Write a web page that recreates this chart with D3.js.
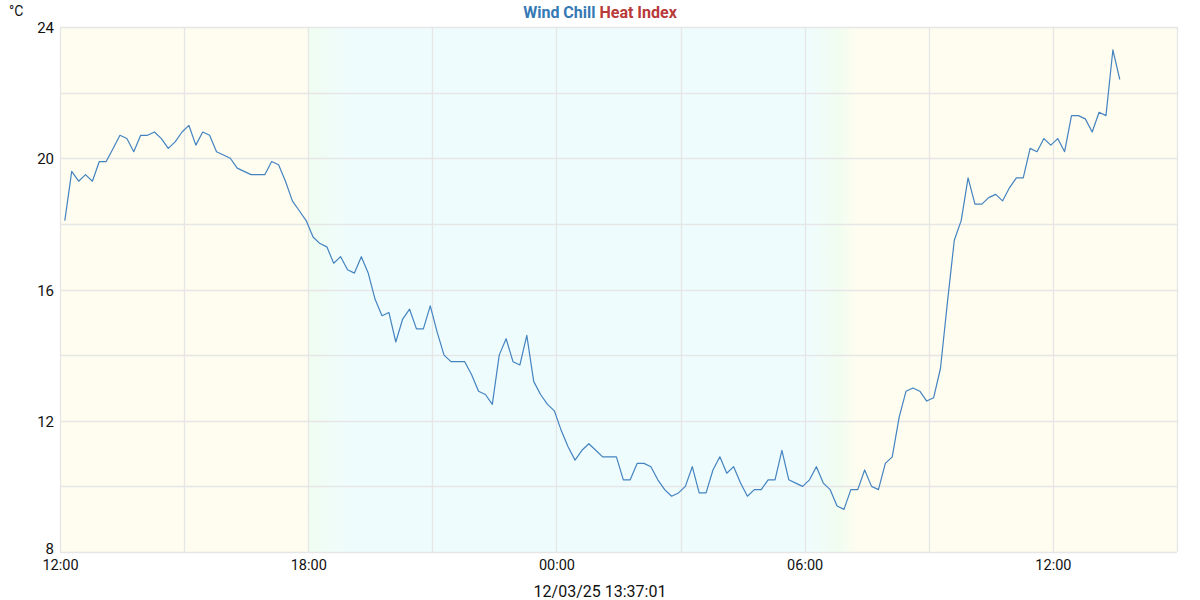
<!DOCTYPE html>
<html>
<head>
<meta charset="utf-8">
<script src="https://cdn.jsdelivr.net/npm/d3@7"></script>
<style>
  html, body { margin: 0; padding: 0; background: #fff; }
  svg { display: block; font-family: Roboto, "Noto Sans", sans-serif; }
</style>
</head>
<body>
<svg id="chart" width="1200" height="600"></svg>
<script>
// ---- data ----
const startTime = new Date(2025, 11, 2, 12, 7, 0);
const stepMinutes = 10;
const domainStart = new Date(2025, 11, 2, 12, 0, 0);
const domainEnd = new Date(2025, 11, 3, 15, 0, 0);
const windChill = [
  18.1, 19.6, 19.3, 19.5, 19.3, 19.9, 19.9, 20.3, 20.7, 20.6,
  20.2, 20.7, 20.7, 20.8, 20.6, 20.3, 20.5, 20.8, 21.0, 20.4,
  20.8, 20.7, 20.2, 20.1, 20.0, 19.7, 19.6, 19.5, 19.5, 19.5,
  19.9, 19.8, 19.3, 18.7, 18.4, 18.1, 17.6, 17.4, 17.3, 16.8,
  17.0, 16.6, 16.5, 17.0, 16.5, 15.7, 15.2, 15.3, 14.4, 15.1,
  15.4, 14.8, 14.8, 15.5, 14.7, 14.0, 13.8, 13.8, 13.8, 13.4,
  12.9, 12.8, 12.5, 14.0, 14.5, 13.8, 13.7, 14.6, 13.2, 12.8,
  12.5, 12.3, 11.7, 11.2, 10.8, 11.1, 11.3, 11.1, 10.9, 10.9,
  10.9, 10.2, 10.2, 10.7, 10.7, 10.6, 10.2, 9.9, 9.7, 9.8,
  10.0, 10.6, 9.8, 9.8, 10.5, 10.9, 10.4, 10.6, 10.1, 9.7,
  9.9, 9.9, 10.2, 10.2, 11.1, 10.2, 10.1, 10.0, 10.2, 10.6,
  10.1, 9.9, 9.4, 9.3, 9.9, 9.9, 10.5, 10.0, 9.9, 10.7,
  10.9, 12.1, 12.9, 13.0, 12.9, 12.6, 12.7, 13.6, 15.6, 17.5,
  18.1, 19.4, 18.6, 18.6, 18.8, 18.9, 18.7, 19.1, 19.4, 19.4,
  20.3, 20.2, 20.6, 20.4, 20.6, 20.2, 21.3, 21.3, 21.2, 20.8,
  21.4, 21.3, 23.3, 22.4
];
const yTickLabels = [8, 12, 16, 20, 24];
const yGridValues = [8, 10, 12, 14, 16, 18, 20, 22, 24];
const xTickHours = 3;
const titleParts = [
  { text: "Wind Chill", color: "#3579b5" },
  { text: " Heat Index", color: "#b83a3a" }
];
const unitLabel = "°C";
const footerLabel = "12/03/25 13:37:01";
// background bands: [time, colour]
const bgStops = [
  [new Date(2025, 11, 2, 12, 0), "#fefdf0"],
  [new Date(2025, 11, 2, 17, 59), "#fefdf0"],
  [new Date(2025, 11, 2, 18, 0), "#f0fdf0"],
  [new Date(2025, 11, 2, 19, 0), "#effcfd"],
  [new Date(2025, 11, 3, 6, 3), "#effcfd"],
  [new Date(2025, 11, 3, 6, 50), "#f1fdf0"],
  [new Date(2025, 11, 3, 7, 15), "#fefdf0"],
  [new Date(2025, 11, 3, 15, 0), "#fefdf0"]
];

const points = windChill.map((v, i) => ({
  t: d3.timeMinute.offset(startTime, i * stepMinutes),
  v
}));

// ---- layout ----
const margin = { left: 60, right: 23, top: 27, bottom: 48 };
const W = 1200, H = 600;
const svg = d3.select("#chart");
const x = d3.scaleTime().domain([domainStart, domainEnd]).range([margin.left, W - margin.right]);
const y = d3.scaleLinear().domain([8, 24]).range([H - margin.bottom, margin.top]);

// background gradient
const defs = svg.append("defs");
const grad = defs.append("linearGradient")
  .attr("id", "bg").attr("gradientUnits", "userSpaceOnUse")
  .attr("x1", x.range()[0]).attr("x2", x.range()[1]).attr("y1", 0).attr("y2", 0);
const span = x.range()[1] - x.range()[0];
bgStops.forEach(([t, c]) => {
  grad.append("stop").attr("offset", ((x(t) - x.range()[0]) / span)).attr("stop-color", c);
});
svg.append("rect")
  .attr("x", x.range()[0]).attr("y", y.range()[1])
  .attr("width", span).attr("height", y.range()[0] - y.range()[1])
  .attr("fill", "url(#bg)");

// grid
const gridColor = "#e6e6e6";
svg.append("g").selectAll("line").data(yGridValues).join("line")
  .attr("x1", x.range()[0]).attr("x2", x.range()[1])
  .attr("y1", d => Math.round(y(d)) + 0.5).attr("y2", d => Math.round(y(d)) + 0.5)
  .attr("stroke", gridColor).attr("stroke-width", 1.3);
const xTicks = d3.timeHour.every(xTickHours).range(domainStart, d3.timeMinute.offset(domainEnd, 1));
svg.append("g").selectAll("line").data(xTicks).join("line")
  .attr("x1", d => Math.round(x(d)) + 0.5).attr("x2", d => Math.round(x(d)) + 0.5)
  .attr("y1", y.range()[1]).attr("y2", y.range()[0])
  .attr("stroke", gridColor).attr("stroke-width", 1.3);

// axes (labels only)
const yAxis = d3.axisLeft(y).tickValues(yTickLabels).tickSize(0).tickPadding(6).tickFormat(d3.format("d"));
const gy = svg.append("g").attr("transform", `translate(${margin.left},0)`).call(yAxis);
gy.select(".domain").remove();
gy.selectAll("text").attr("font-size", 15).attr("fill", "#111").attr("font-family", "Roboto, sans-serif")
  .attr("dy", d => d === 8 ? "0.12em" : "0.38em");

const xLabelTicks = d3.timeHour.every(6).range(domainStart, domainEnd);
const xAxis = d3.axisBottom(x).tickValues(xLabelTicks).tickSize(0).tickPadding(8).tickFormat(d3.timeFormat("%H:%M"));
const gx = svg.append("g").attr("transform", `translate(0,${y.range()[0]})`).call(xAxis);
gx.select(".domain").remove();
gx.selectAll("text").attr("font-size", 14.5).attr("fill", "#111").attr("font-family", "Roboto, sans-serif");

// line
const line = d3.line().x(d => x(d.t)).y(d => y(d.v));
svg.append("path").datum(points)
  .attr("d", line).attr("fill", "none")
  .attr("stroke", "#4483c0").attr("stroke-width", 1.2).attr("stroke-linejoin", "round");

// title
const title = svg.append("text").attr("x", 600).attr("y", 18)
  .attr("text-anchor", "middle").attr("font-size", 16).attr("font-weight", "bold");
titleParts.forEach(p => title.append("tspan").attr("fill", p.color).text(p.text));

// unit
svg.append("text").attr("x", 9).attr("y", 16).attr("font-size", 14).attr("fill", "#111").text(unitLabel);

// footer
svg.append("text").attr("x", 600).attr("y", 597)
  .attr("text-anchor", "middle").attr("font-size", 16).attr("fill", "#111").text(footerLabel);
</script>
</body>
</html>
